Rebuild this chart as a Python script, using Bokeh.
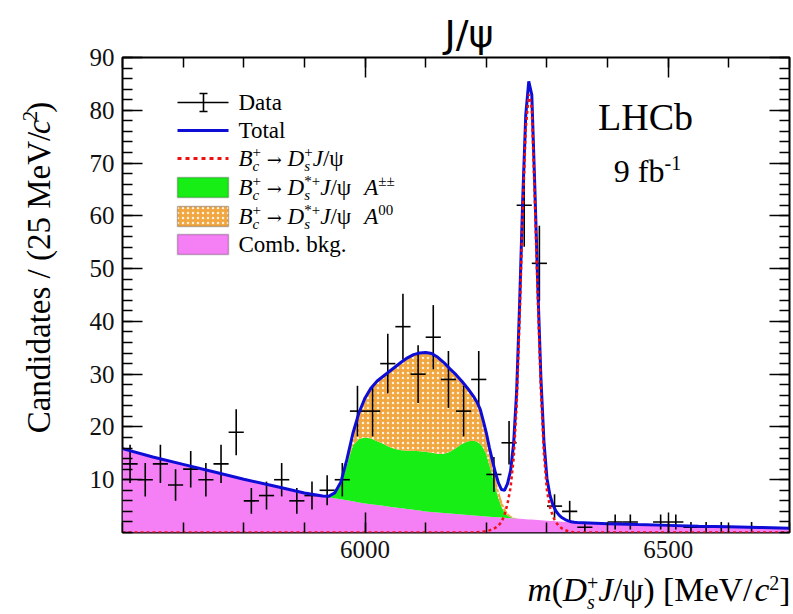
import math
import numpy as np
from bokeh.plotting import figure
from bokeh.layouts import column, row
from bokeh.models import Label, Range1d, LinearAxis, FixedTicker, BoxAnnotation, Title
from bokeh.embed import file_html
from bokeh.resources import INLINE

# ---------------- data ----------------
bin_width = 25.0
bin_centers = np.arange(5612.5, 6700, bin_width)
counts = [13, 10, 13, 9, 12, 10, 13, 19, 6, 7, 10, 6, 7, 8, 10, 23, 23, 32, 39, 30,
          37, 29, 23, 29, 11, 17, 62, 51, 5, 4, 1, 0, 2, 2, 0, 2, 2, 1, 1, 1,
          0, 1, 0, 0]

mass_grid = [5600, 5650, 5700, 5750, 5800, 5850, 5900, 5920, 5930, 5940,
             5950, 5960, 5970, 5980, 5990, 6000, 6010, 6020, 6030, 6040, 6050, 6060,
             6070, 6080, 6090, 6100, 6110, 6120, 6130, 6140, 6150, 6160, 6170, 6180,
             6185, 6190, 6195, 6200, 6205, 6210, 6215, 6220, 6225, 6230, 6235, 6240,
             6245, 6250, 6255, 6260, 6265, 6270, 6275, 6280, 6285, 6290, 6295, 6300,
             6305, 6310, 6315, 6320, 6325, 6330, 6335, 6340, 6345,
             6350, 6400, 6450, 6500, 6550, 6600, 6650, 6700]

comb_bkg = [15.9, 14.3, 12.9, 11.5, 10.1, 8.8, 7.5, 7.1, 6.9, 6.7,
            6.5, 6.3, 6.1, 5.9, 5.7, 5.5, 5.35, 5.2, 5.05, 4.9, 4.75, 4.6,
            4.45, 4.3, 4.15, 4.0, 3.9, 3.8, 3.7, 3.6, 3.5, 3.4, 3.3, 3.2,
            3.16, 3.12, 3.08, 3.04, 3.00, 2.96, 2.92, 2.88, 2.84, 2.80, 2.76, 2.72,
            2.68, 2.64, 2.60, 2.56, 2.52, 2.48, 2.44, 2.40, 2.36, 2.32, 2.28, 2.24,
            2.20, 2.16, 2.12, 2.08, 2.04, 2.00, 1.96, 1.93, 1.90,
            1.88, 1.68, 1.50, 1.35, 1.20, 1.07, 0.95, 0.82]

dsstar_pm = [0, 0, 0, 0, 0, 0, 0, 0, 0, 0.05,
             0.7, 2.7, 6.7, 10.6, 12.0, 12.5, 12.45, 12.1, 11.75, 11.3, 11.05, 11.0,
             11.05, 11.2, 11.25, 11.3, 11.2, 11.1, 11.2, 11.7, 12.5, 13.4, 14.0, 14.2,
             14.0, 13.7, 12.9, 11.8, 9.8, 7.8, 5.6, 3.6, 2.0, 1.0, 0.45, 0.15,
             0.05, 0, 0, 0, 0, 0, 0, 0, 0, 0, 0, 0,
             0, 0, 0, 0, 0, 0, 0, 0, 0,
             0, 0, 0, 0, 0, 0, 0, 0]

dsstar_00 = [0, 0, 0, 0, 0, 0, 0, 0, 0, 0.1,
             0.3, 0.5, 1.0, 2.3, 5.0, 7.5, 9.6, 11.4, 12.8, 14.3, 15.6, 16.7,
             17.6, 18.2, 18.6, 18.8, 18.8, 18.3, 17.3, 15.7, 13.9, 11.8, 9.9, 8.2,
             7.4, 6.4, 5.0, 3.8, 2.9, 2.3, 1.9, 1.6, 1.3, 0.9, 0.55, 0.3,
             0.12, 0.04, 0, 0, 0, 0, 0, 0, 0, 0, 0, 0,
             0, 0, 0, 0, 0, 0, 0, 0, 0,
             0, 0, 0, 0, 0, 0, 0, 0]

ds_signal = [0, 0, 0, 0, 0, 0, 0, 0, 0, 0,
             0, 0, 0, 0, 0, 0, 0, 0, 0, 0, 0, 0,
             0, 0, 0, 0, 0, 0, 0, 0, 0, 0, 0, 0,
             0.05, 0.1, 0.15, 0.25, 0.4, 0.6, 0.9, 1.3, 2.0, 3.3, 5.5, 8.5,
             14.0, 24.0, 41.0, 60.5, 76.5, 83.0, 80.5, 63.0, 44.0, 27.0, 15.0, 8.0,
             4.8, 3.0, 1.9, 1.2, 0.75, 0.45, 0.25, 0.12, 0.05,
             0, 0, 0, 0, 0, 0, 0, 0]

x_major = [6000, 6500]
x_minor = list(range(5600, 6701, 100))
y_major = list(range(10, 91, 10))
y_minor = list(range(0, 91, 2))

# ---------------- colours ----------------
PINK = "#f57ff5"
GREEN = "#16ee16"
ORANGE = "#f2a640"
BLUE = "#0d0dd6"
RED = "#f01010"
SERIF = "Liberation Serif"

# ---------------- page geometry (canvas pixels) ----------------
W, H = 793, 614
LEFT_W = 60           # y-title strip
BOT_H = 44            # x-title strip
MID_H = H - BOT_H
FL, FR, FT, FB = 122, 789, 57, 532     # plot frame in canvas pixels
X0, X1, Y0, Y1 = 5600, 6700, 0, 90
BASE_FIX = 0.35       # Bokeh draws "alphabetic" text lower by about this many em


def dx(px):
    return X0 + (px - FL) * (X1 - X0) / (FR - FL)


def dy(py):
    return Y0 + (FB - py) * (Y1 - Y0) / (FB - FT)


# ---------------- main plot ----------------
p = figure(width=W - LEFT_W, height=MID_H, x_range=Range1d(X0, X1), y_range=Range1d(Y0, Y1),
           output_backend="svg", toolbar_location=None,
           min_border_left=FL - LEFT_W, min_border_right=W - FR,
           min_border_top=FT, min_border_bottom=MID_H - FB)
p.xgrid.visible = False
p.ygrid.visible = False
p.outline_line_color = "black"
p.outline_line_width = 2


def style_axis(ax, ticks, labels=True):
    ax.axis_line_color = None
    ax.major_tick_in = 20
    ax.major_tick_out = 0
    ax.minor_tick_in = 10
    ax.minor_tick_out = 0
    ax.major_tick_line_color = "black"
    ax.minor_tick_line_color = "black"
    ax.major_tick_line_width = 1.5
    ax.minor_tick_line_width = 1.5
    if labels:
        ax.major_label_text_font = SERIF
        ax.major_label_text_font_size = "25px"
        ax.major_label_text_color = "#111111"
        ax.major_label_standoff = 8
    else:
        ax.major_label_overrides = {t: "" for t in ticks}
        ax.major_label_standoff = 0


p.xaxis.ticker = FixedTicker(ticks=x_major, minor_ticks=x_minor)
p.yaxis.ticker = FixedTicker(ticks=y_major, minor_ticks=y_minor)
style_axis(p.xaxis[0], x_major)
style_axis(p.yaxis[0], y_major)
top_ax = LinearAxis(ticker=FixedTicker(ticks=x_major, minor_ticks=x_minor))
right_ax = LinearAxis(ticker=FixedTicker(ticks=y_major, minor_ticks=y_minor))
style_axis(top_ax, x_major, False)
style_axis(right_ax, y_major, False)
p.add_layout(top_ax, "above")
p.add_layout(right_ax, "right")

# title of the chart
title = Title(text="J/ψ", text_font="DejaVu Sans", text_font_size="38px",
              text_font_style="normal", text_color="black",
              align="right", offset=296, standoff=4)
p.add_layout(title, "above")

# ---------------- stacked fit components ----------------
m = np.array(mass_grid, dtype=float)
c = np.array(comb_bkg)
g = c + np.array(dsstar_pm)
o = g + np.array(dsstar_00)
sig = np.array(ds_signal)
total = o + sig

p.varea(x=m, y1=np.zeros_like(c), y2=c, fill_color=PINK)
p.varea(x=m, y1=c, y2=g, fill_color=GREEN)
p.varea(x=m, y1=g, y2=o, fill_color=ORANGE, hatch_pattern="dot",
        hatch_color="white", hatch_scale=5, hatch_alpha=0.85)

# ---------------- data points ----------------
bc = np.array(bin_centers)
n = np.array(counts, dtype=float)
keep = n > 0
xs, ns = bc[keep], n[keep]
err = np.sqrt(ns)
p.segment(x0=xs, y0=ns - err, x1=xs, y1=ns + err, line_color="black", line_width=1.6)
p.segment(x0=xs - bin_width / 2, y0=ns, x1=xs + bin_width / 2, y1=ns,
          line_color="black", line_width=1.6)

# ---------------- curves ----------------
p.line(m, total, line_color=BLUE, line_width=3)
p.line(m, sig, line_color=RED, line_width=2.5, line_dash="3 3")


# ---------------- helper strips for text outside the frame ----------------
def strip(w, h):
    f = figure(width=w, height=h, x_range=Range1d(0, w), y_range=Range1d(0, h),
               output_backend="svg", toolbar_location=None, min_border=0,
               x_axis_type=None, y_axis_type=None)
    f.outline_line_color = None
    f.xgrid.visible = False
    f.ygrid.visible = False
    return f


left_fig = strip(LEFT_W, MID_H)
bot_fig = strip(W, BOT_H)


def conv_for(fig_x0, fig_y0, h):
    return lambda px, py: (px - fig_x0, fig_y0 + h - py)


conv_left = conv_for(0, 0, MID_H)
conv_bot = conv_for(0, MID_H, BOT_H)
conv_main = lambda px, py: (dx(px), dy(py))

# ---------------- text helpers ----------------
WR = {' ': .25, '(': .333, ')': .333, '[': .333, ']': .333, '/': .278, 'M': .889,
      'e': .444, 'V': .722, '2': .5, '5': .5, '0': .5, '1': .5, '9': .5, 'C': .667,
      'a': .444, 'n': .5, 'd': .5, 'i': .278, 't': .278, 's': .389, '+': .564,
      'o': .5, 'm': .778, 'b': .5, '.': .25, 'k': .5, 'g': .5, 'D': .722, 'T': .611,
      'l': .278, 'f': .333, '-': .333, 'L': .611, 'H': .722, 'ψ': .69, '±': .564,
      '*': .5, 'A': .722, '→': .838}
WI = {'m': .722, 'D': .722, 'J': .444, 'c': .444, 's': .389, 'B': .611, 'A': .611,
      ' ': .25}


def width(t, sz, st):
    tab = WI if st == "italic" else WR
    return sz * sum(tab.get(ch, WR.get(ch, .5)) for ch in t)


def make_label(fig, x, y, t, sz, st, font, align="left", angle=0.0):
    lab = Label(x=x, y=y, text=t, angle=angle)
    lab.text_font = font
    lab.text_font_size = f"{sz}px"
    lab.text_font_style = st
    lab.text_baseline = "alphabetic"
    lab.text_align = align
    lab.text_color = "black"
    fig.add_layout(lab)


def place(fig, conv, x0, yb, pieces, align="left"):
    total_w, pend = 0.0, 0.0
    for pc in pieces:
        t, sz, st, rise, adv = pc[:5]
        pend = max(pend, width(t, sz, st))
        if adv:
            total_w += pend
            pend = 0.0
    shift = total_w if align == "right" else total_w / 2 if align == "center" else 0
    pos = x0 - shift
    pend = 0.0
    for pc in pieces:
        t, sz, st, rise, adv = pc[:5]
        font = pc[5] if len(pc) > 5 else SERIF
        x, y = conv(pos, yb - rise - BASE_FIX * sz)
        make_label(fig, x, y, t, sz, st, font)
        pend = max(pend, width(t, sz, st))
        if adv:
            pos += pend
            pend = 0.0


def place_vertical_from_top(fig, conv, xb, ytop, pieces):
    """Text reading bottom-to-top whose END sits at ytop; pieces given in reading order."""
    pos = ytop
    for t, sz, st, rise in reversed(pieces):
        x, y = conv(xb - rise - BASE_FIX * sz, pos)
        make_label(fig, x, y, t, sz, st, SERIF, align="right", angle=math.pi / 2)
        pos += width(t, sz, st)


N, I = "normal", "italic"

# axis titles
XS, XSS = 33.5, 20
place(bot_fig, conv_bot, 790, 601,
      [("m", XS, I, 0, True), ("(", XS, N, 0, True), ("D", XS, I, 0, True),
       ("+", XSS, N, 12, False), ("s", XSS, I, -7, True), ("J", XS, I, 0, True),
       ("/ψ) [MeV/", XS, N, 0, True), ("c", XS, I, 0, True),
       ("2", XSS, N, 12, True), ("]", XS, N, 0, True)], align="right")
YS, YSS = 33, 21
place_vertical_from_top(left_fig, conv_left, 50, 53,
                        [("Candidates / (25 MeV/", YS, N, 0), ("c", YS, I, 0),
                         ("2", YSS, N, 13), (")", YS, N, 0)])

# LHCb label
place(p, conv_main, 645, 130, [("LHCb", 38, N, 0, True)], align="center")
place(p, conv_main, 647, 182, [("9 fb", 32, N, 0, True), ("-1", 20, N, 13, True)],
      align="center")

# ---------------- legend ----------------
LX0, LX1 = 177, 228
rows = [102, 130, 158, 187, 216, 244]
p.line([dx(LX0), dx(LX1)], [dy(rows[0])] * 2, line_color="black", line_width=1.6)
p.line([dx(203), dx(203)], [dy(rows[0] - 9), dy(rows[0] + 9)], line_color="black", line_width=1.6)
p.line([dx(199), dx(207)], [dy(rows[0] - 9)] * 2, line_color="black", line_width=1.6)
p.line([dx(199), dx(207)], [dy(rows[0] + 9)] * 2, line_color="black", line_width=1.6)
p.line([dx(LX0), dx(LX1)], [dy(rows[1])] * 2, line_color=BLUE, line_width=3)
p.line([dx(LX0), dx(LX1)], [dy(rows[2])] * 2, line_color=RED, line_width=3, line_dash="4 4")
for r, col, hatch in [(rows[3], GREEN, None), (rows[4], ORANGE, "dot"), (rows[5], PINK, None)]:
    box = BoxAnnotation(left=dx(LX0), right=dx(LX1), top=dy(r - 10), bottom=dy(r + 10),
                        fill_color=col, fill_alpha=1.0, line_color="#333333", line_width=1.5)
    if hatch:
        box.hatch_pattern = hatch
        box.hatch_color = "white"
        box.hatch_scale = 5
        box.hatch_alpha = 0.85
    p.add_layout(box)

LT = 238
FS, SS = 23, 15
place(p, conv_main, LT, rows[0] + 8, [("Data", FS, N, 0, True)])
place(p, conv_main, LT, rows[1] + 8, [("Total", FS, N, 0, True)])
bc_part = [("B", FS, I, 0, True), ("+", SS, N, 9, False), ("c", SS, I, -5, True),
           (" ", FS, N, 0, True), ("→", 18, N, 1, True, "DejaVu Serif"), (" ", FS, N, 0, True)]
place(p, conv_main, LT, rows[2] + 8,
      bc_part + [("D", FS, I, 0, True), ("+", SS, N, 9, False), ("s", SS, I, -5, True),
                 ("J", FS, I, 0, True), ("/ψ", FS, N, 0, True)])
place(p, conv_main, LT, rows[3] + 8,
      bc_part + [("D", FS, I, 0, True), ("*+", SS, N, 9, False), ("s", SS, I, -5, True),
                 ("J", FS, I, 0, True), ("/ψ  ", FS, N, 0, True), ("A", FS, I, 0, True),
                 ("±±", SS, N, 9, True)])
place(p, conv_main, LT, rows[4] + 8,
      bc_part + [("D", FS, I, 0, True), ("*+", SS, N, 9, False), ("s", SS, I, -5, True),
                 ("J", FS, I, 0, True), ("/ψ  ", FS, N, 0, True), ("A", FS, I, 0, True),
                 ("00", SS, N, 9, True)])
place(p, conv_main, LT, rows[5] + 8, [("Comb. bkg.", FS, N, 0, True)])

layout = column(row(left_fig, p), bot_fig)
open("out.html", "w").write(file_html(layout, INLINE))
